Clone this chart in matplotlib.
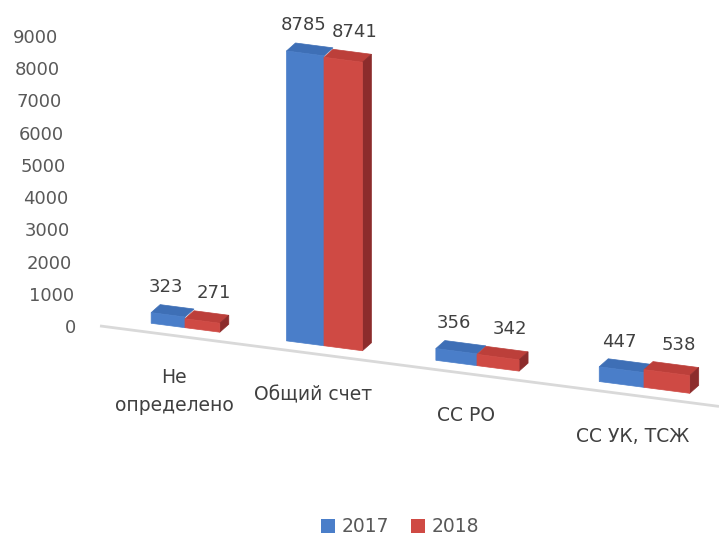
import numpy as np
import matplotlib
matplotlib.use("Agg")
import matplotlib.pyplot as plt
from matplotlib.patches import Polygon, Patch
import matplotlib.transforms as mtransforms

categories = ["Не\nопределено", "Общий счет", "СС РО", "СС УК, ТСЖ"]
series_names = ["2017", "2018"]
values_2017 = [323, 8785, 356, 447]
values_2018 = [271, 8741, 342, 538]
y_ticks = list(range(0, 9001, 1000))

plt.rcParams["font.family"] = ["DejaVu Sans"]
W, H = 719, 535
fig = plt.figure(figsize=(W / 100, H / 100), dpi=100)
fig.patch.set_facecolor("white")
ax = fig.add_axes([0, 0, 1, 1])
ax.set_axis_off()

# perspective-like horizontal scale (category spacing grows to the right)
B, C, X0 = 132.0, 7.0, 185.0
def fwd(u):
    u = np.asarray(u, dtype=float)
    return B * u + C * u * u
def inv(f):
    f = np.asarray(f, dtype=float)
    return (-B + np.sqrt(np.maximum(B * B + 4 * C * f, 0))) / (2 * C)
ax.set_xscale("function", functions=(fwd, inv))
ax.set_xlim(float(inv(-X0)), float(inv(W - X0)))

k = 0.033            # px per value unit
base_ref = H - 323   # display y of value 0 at x = xr
ax.set_ylim(-base_ref / k, (H - base_ref) / k)
s, xr = 0.13, 149.0
skew = mtransforms.Affine2D(np.array([[1, 0, 0], [-s, 1, s * xr], [0, 0, 1]]))
trans = ax.transData + skew
ident = mtransforms.IdentityTransform()

front = ["#4a7ec9", "#cf4a44"]
topc = ["#3e6fb6", "#bc3f3a"]
sidec = "#8c2c2c"
depth = np.array([9.0, 8.0])
w = 0.26
label_col = "#404040"

# floor edge
ax.plot([float(inv(100 - X0)), ax.get_xlim()[1]], [-9.3 / k, -9.3 / k],
        color="#d9d9d9", lw=2, transform=trans, solid_capstyle="butt", zorder=1)

series = [values_2017, values_2018]
for i in range(len(categories)):
    for j, vals in enumerate(series):
        v = vals[i]
        u0, u1 = (i - w, i) if j == 0 else (i, i + w)
        fl, fr, tr, tl = trans.transform([(u0, 0), (u1, 0), (u1, v), (u0, v)])
        top = [tl, tr, tr + depth, tl + depth]
        ax.add_patch(Polygon(top, closed=True, transform=ident, facecolor=topc[j],
                             edgecolor=topc[j], lw=0.5, zorder=3))
        if j == 1:
            side = [fr, tr, tr + depth, fr + depth]
            ax.add_patch(Polygon(side, closed=True, transform=ident, facecolor=sidec,
                                 edgecolor=sidec, lw=0.5, zorder=3))
        ax.add_patch(Polygon([fl, fr, tr, tl], closed=True, transform=ident,
                             facecolor=front[j], edgecolor=front[j], lw=0.5, zorder=4))
        ax.annotate(str(v), xy=((u0 + u1) / 2, v), xycoords=trans,
                    xytext=(-2 if j == 0 else 12, 28), textcoords="offset pixels",
                    ha="center", va="center", fontsize=13, color=label_col, zorder=5)
    ax.annotate(categories[i], xy=(i, 0), xycoords=trans, xytext=(-11, -40),
                textcoords="offset pixels", ha="center", va="top",
                multialignment="center", linespacing=1.6, fontsize=13.5, color=label_col)

# value axis labels (slightly slanted column as in the 3-D view)
ax_t = fig.add_axes([0, 0, 1, 1])
ax_t.set_axis_off()
ks = 290 / 9000
ax_t.set_xlim(0, W)
ax_t.set_ylim(-(H - 328) / ks, (328) / ks)
for v in y_ticks:
    ax_t.text(76 - 18 * v / 9000, v, str(v), ha="right", va="center",
              fontsize=13, color="#595959")

handles = [Patch(facecolor=front[0]), Patch(facecolor=front[1])]
fig.legend(handles=handles, labels=series_names, loc="center",
           bbox_to_anchor=(400 / W, 1 - 527 / H), ncol=2, frameon=False,
           handlelength=0.75, handleheight=0.75, handletextpad=0.35,
           columnspacing=1.2, fontsize=13.5, labelcolor="#595959")

fig.savefig("out.png", dpi=100, facecolor="white")
